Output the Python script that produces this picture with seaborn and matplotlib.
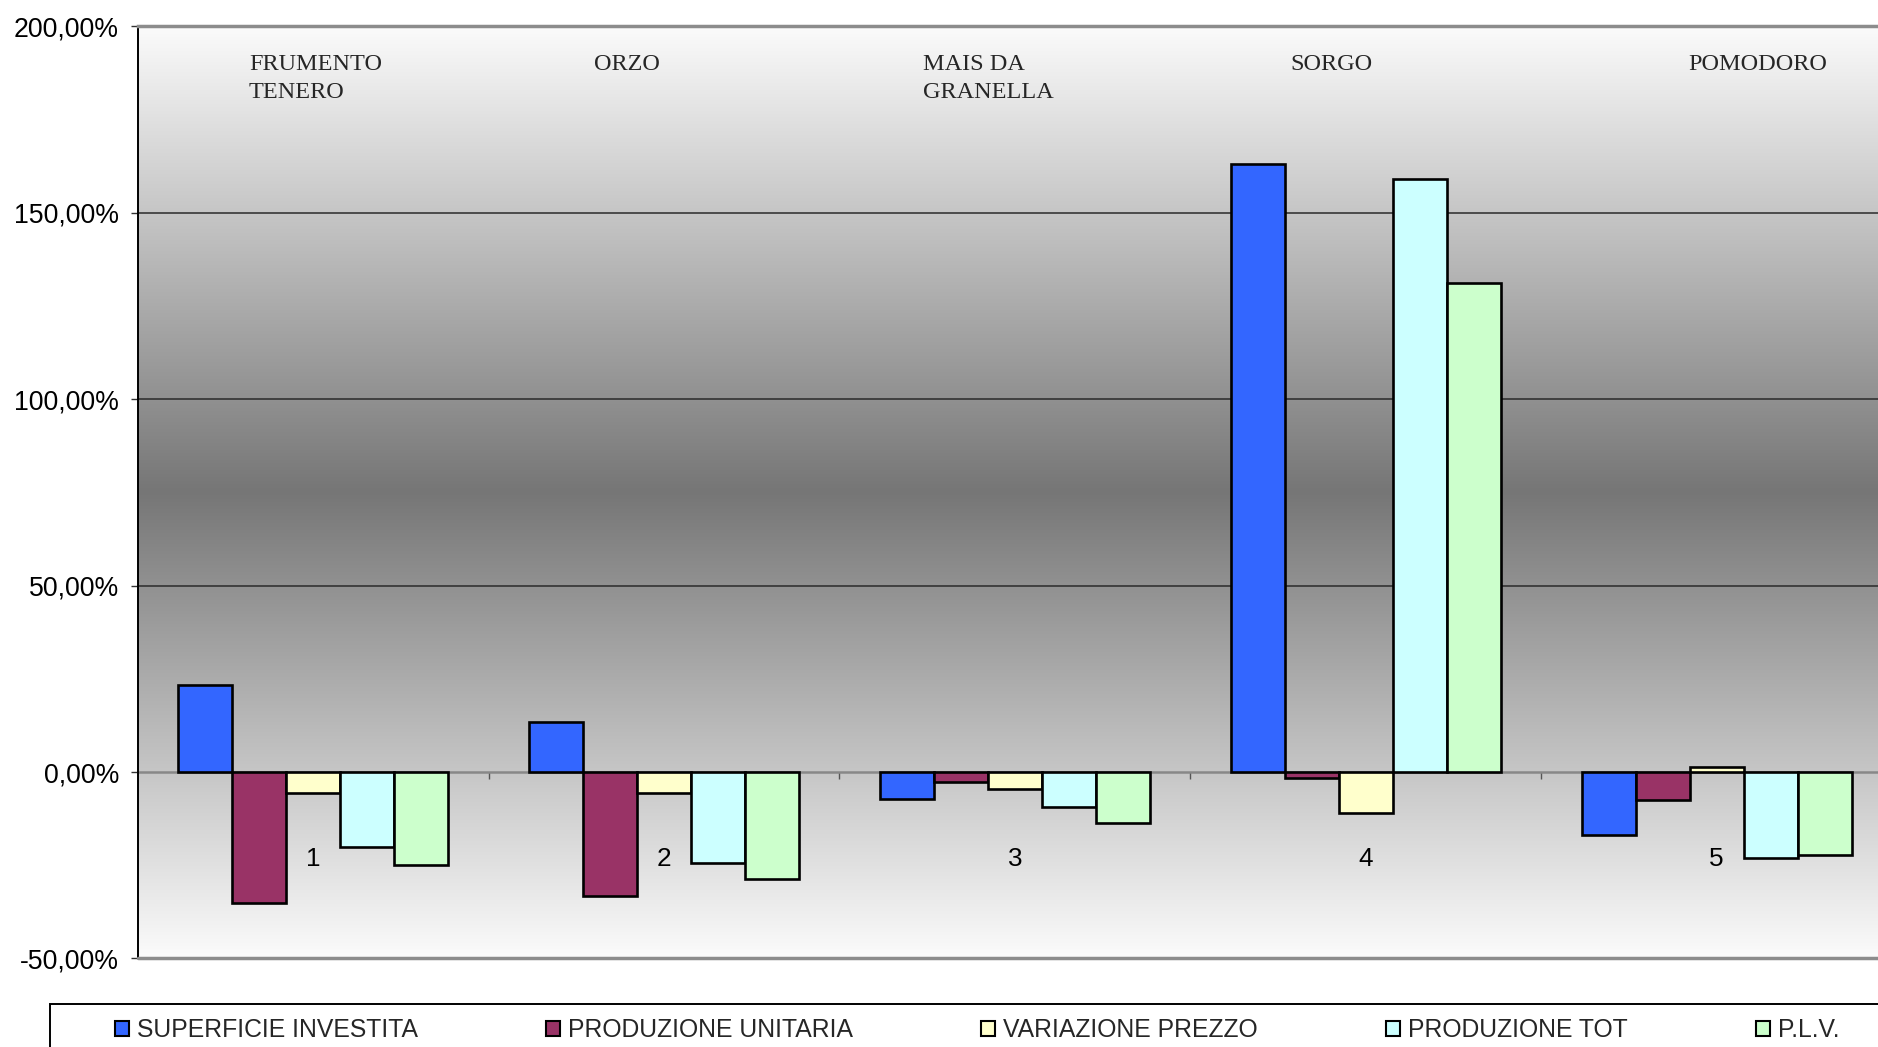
import numpy as np
import pandas as pd
import matplotlib
matplotlib.use("Agg")
import matplotlib.pyplot as plt
from matplotlib.colors import LinearSegmentedColormap
from matplotlib.patches import Rectangle
from matplotlib.ticker import FixedLocator, FuncFormatter
import seaborn as sns

# ---------------- data ----------------
groups = ["1", "2", "3", "4", "5"]
crop_names = ["FRUMENTO\nTENERO", "ORZO", "MAIS DA\nGRANELLA", "SORGO", "POMODORO"]
series = ["SUPERFICIE INVESTITA", "PRODUZIONE UNITARIA", "VARIAZIONE PREZZO",
          "PRODUZIONE TOT", "P.L.V."]
superficie_investita = [23.3, 13.5, -7.2, 163.1, -16.9]
produzione_unitaria = [-35.2, -33.3, -2.6, -1.5, -7.6]
variazione_prezzo = [-5.7, -5.5, -4.6, -11.0, 1.3]
produzione_tot = [-20.2, -24.3, -9.5, 159.0, -23.1]
plv = [-24.9, -28.7, -13.7, 131.1, -22.2]
colors = ["#3366FF", "#993366", "#FFFFCC", "#CCFFFF", "#CCFFCC"]
y_ticks = [-50, 0, 50, 100, 150, 200]

# label placement (x in category units, left-aligned)
name_x = [-0.183, 0.800, 1.739, 2.784, 3.920]

values = [superficie_investita, produzione_unitaria, variazione_prezzo, produzione_tot, plv]
df = pd.DataFrame({
    "gruppo": np.repeat(groups, len(series)).tolist(),
    "serie": series * len(groups),
    "valore": [values[s][g] for g in range(len(groups)) for s in range(len(series))],
})

sns.set_style("white")
plt.rcParams["font.family"] = ["Liberation Sans", "DejaVu Sans"]

W, H = 1878, 1047
fig = plt.figure(figsize=(W / 100, H / 100), dpi=100)
cat_w = 350.9
left_px, top_px, bot_px = 137.7, 26.4, 958.5
ax = fig.add_axes([left_px / W, 1 - bot_px / H, 5 * cat_w / W, (bot_px - top_px) / H])

# gradient background
cmap = LinearSegmentedColormap.from_list("g", ["#fbfbfb", "#767676", "#fbfbfb"])
grad = np.linspace(0, 1, 512).reshape(-1, 1)
ax.imshow(grad, extent=[-0.5, 4.5, -50, 200], aspect="auto", cmap=cmap,
          origin="lower", zorder=0, interpolation="bicubic")

sns.barplot(data=df, x="gruppo", y="valore", hue="serie", hue_order=series,
            order=groups, palette=colors, width=0.77, edgecolor="black",
            linewidth=1.9, saturation=1, legend=True, ax=ax, zorder=3)

for yv in y_ticks:
    if yv not in (-50, 0, 200):
        ax.axhline(yv, color="#2a2a2a", lw=1.1, zorder=1)

ax.set_xlim(-0.5, 4.5)
ax.set_ylim(-50, 200)
ax.set_xlabel("")
ax.set_ylabel("")

# y axis
ax.yaxis.set_major_locator(FixedLocator(y_ticks))
ax.yaxis.set_major_formatter(FuncFormatter(lambda v, p: f"{v:.2f}".replace(".", ",") + "%"))
ax.tick_params(axis="y", which="major", left=True, direction="out", length=5,
               width=1, color="#333333", pad=8.5, labelsize=19.2, labelcolor="black")

# x axis on zero line
ax.spines["bottom"].set_position(("data", 0))
ax.spines["bottom"].set_color("#888888")
ax.spines["bottom"].set_linewidth(1.8)
ax.spines["bottom"].set_zorder(2)
ax.xaxis.set_major_locator(FixedLocator([0.5, 1.5, 2.5, 3.5]))
ax.xaxis.set_major_formatter(FuncFormatter(lambda v, p: ""))
ax.set_xticks(range(len(groups)), labels=groups, minor=True)
ax.tick_params(axis="x", which="major", bottom=True, direction="out", length=5,
               width=1, color="#555555")
ax.tick_params(axis="x", which="minor", bottom=True, length=0, pad=54,
               labelsize=18.8, labelcolor="black")

ax.spines["left"].set_color("black")
ax.spines["left"].set_linewidth(1.4)
ax.spines["top"].set_color("#8c8c8c")
ax.spines["top"].set_linewidth(2.5)
ax.spines["right"].set_visible(False)
ax.axhline(-50, color="#8c8c8c", lw=2.5, zorder=5, clip_on=False)

# crop names
for x, name in zip(name_x, crop_names):
    ax.text(x, 192.6, name, ha="left", va="top", fontsize=17.5,
            family=["Liberation Serif", "DejaVu Serif"], linespacing=1.46, zorder=6)

# legend
handles, labels = ax.get_legend_handles_labels()
ax.get_legend().remove()
fig.patches.append(Rectangle((50 / W, -0.05), 1.1, 0.05 + 1 - 1004.3 / H,
                             transform=fig.transFigure, facecolor="white",
                             edgecolor="black", lw=1.4, zorder=0))
leg = fig.legend(handles, labels, loc="center left",
                 bbox_to_anchor=(115 / W, 1 - 1030.0 / H), ncol=5, frameon=False,
                 fontsize=17.8, handlelength=0.57, handleheight=0.57,
                 handletextpad=0.33, columnspacing=5.17, borderpad=0,
                 borderaxespad=0)
for h in leg.legend_handles:
    h.set_linewidth(1.5)
    h.set_edgecolor("black")

fig.savefig("out.png", dpi=100)
